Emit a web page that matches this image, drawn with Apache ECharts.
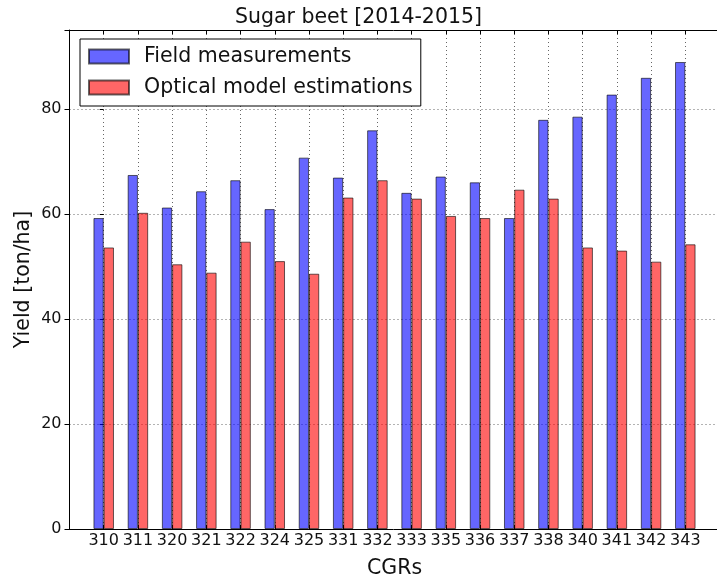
<!DOCTYPE html>
<html>
<head>
<meta charset="utf-8">
<script src="https://cdn.jsdelivr.net/npm/echarts@6/dist/echarts.min.js"></script>
<style>
html,body{margin:0;padding:0;background:#fff;}
#chart{width:717px;height:578px;}
</style>
</head>
<body>
<div id="chart"></div>
<script>
const titleText = 'Sugar beet [2014-2015]';
const categories = ['310','311','320','321','322','324','325','331','332','333','335','336','337','338','340','341','342','343'];
const fieldMeasurements = [59.2, 67.4, 61.2, 64.3, 66.4, 60.9, 70.7, 66.9, 75.9, 64.0, 67.1, 66.0, 59.2, 77.9, 78.5, 82.7, 85.9, 88.9];
const opticalEstimations = [53.6, 60.2, 50.4, 48.8, 54.7, 51.0, 48.6, 63.1, 66.4, 62.9, 59.6, 59.2, 64.6, 62.9, 53.6, 53.0, 50.9, 54.2];
const seriesNames = ['Field measurements', 'Optical model estimations'];
const yTicks = [0, 20, 40, 60, 80];
const xLabel = 'CGRs';
const yLabel = 'Yield [ton/ha]';

const FONT = 'DejaVu Sans';
const chart = echarts.init(document.getElementById('chart'), null, {renderer: 'canvas'});

const gridLine = {color: 'rgba(0,0,0,0.6)', width: 1, type: [1, 3]};
const spine = {show: true, onZero: false, lineStyle: {color: '#000', width: 1}};

const option = {
  backgroundColor: '#fff',
  animation: false,
  textStyle: {fontFamily: FONT},
  title: {
    text: titleText,
    left: 'center',
    top: 7,
    padding: 0,
    textStyle: {fontFamily: FONT, fontSize: 20.5, fontWeight: 'normal', color: '#111'}
  },
  legend: {
    orient: 'vertical',
    left: 80,
    top: 39,
    padding: [7, 8, 8, 8],
    itemGap: 10,
    itemWidth: 40,
    itemHeight: 14,
    icon: 'rect',
    backgroundColor: '#fff',
    borderColor: '#000',
    borderWidth: 1,
    borderRadius: 0,
    textStyle: {fontFamily: FONT, fontSize: 20.5, color: '#111', padding: [0, 0, 0, 10]},
    data: seriesNames
  },
  grid: {left: 69.5, top: 30, width: 650, height: 499, containLabel: false, outerBoundsMode: 'none'},
  xAxis: [
    {
      type: 'value', position: 'bottom', min: -1, max: 18, interval: 1,
      axisLine: spine,
      axisTick: {show: true, inside: true, length: 4, lineStyle: {color: '#000'}},
      axisLabel: {
        show: true, margin: 4, fontSize: 16, color: '#111', fontFamily: FONT,
        formatter: v => (v >= 0 && v < categories.length) ? categories[v] : ''
      },
      splitLine: {show: true, showMinLine: false, showMaxLine: false, lineStyle: gridLine},
      name: xLabel, nameLocation: 'middle', nameGap: 29, nameMoveOverlap: false,
      nameTextStyle: {fontFamily: FONT, fontSize: 20.5, color: '#111'}
    },
    {
      type: 'value', position: 'top', min: -1, max: 18, interval: 1,
      axisLine: spine,
      axisTick: {show: true, inside: true, length: 4, lineStyle: {color: '#000'}},
      axisLabel: {show: false},
      splitLine: {show: false}
    }
  ],
  yAxis: [
    {
      type: 'value', position: 'left', min: 0, max: 95, interval: 20,
      axisLine: spine,
      axisTick: {show: true, inside: false, length: 5, lineStyle: {color: '#000'}},
      axisLabel: {
        show: true, margin: 8, fontSize: 16, color: '#111', fontFamily: FONT,
        formatter: v => yTicks.indexOf(v) >= 0 ? String(v) : ''
      },
      splitLine: {show: true, showMinLine: false, showMaxLine: false, lineStyle: gridLine},
      name: yLabel, nameLocation: 'middle', nameGap: 35, nameMoveOverlap: false,
      nameTextStyle: {fontFamily: FONT, fontSize: 20.5, color: '#111'}
    },
    {
      type: 'value', position: 'right', min: 0, max: 95, interval: 20,
      axisLine: {show: false},
      axisTick: {show: true, inside: true, length: 4, lineStyle: {color: '#000'}},
      axisLabel: {show: false},
      splitLine: {show: false}
    }
  ],
  series: [
    {
      name: seriesNames[0], type: 'bar', xAxisIndex: 0, yAxisIndex: 0,
      barWidth: '30%', barGap: '0%',
      itemStyle: {color: 'rgba(0,0,255,0.6)', borderColor: 'rgba(0,0,0,0.6)', borderWidth: 1},
      data: fieldMeasurements.map((v, i) => [i, v])
    },
    {
      name: seriesNames[1], type: 'bar', xAxisIndex: 0, yAxisIndex: 0,
      barWidth: '30%', barGap: '0%',
      itemStyle: {color: 'rgba(255,0,0,0.6)', borderColor: 'rgba(0,0,0,0.6)', borderWidth: 1},
      data: opticalEstimations.map((v, i) => [i, v])
    }
  ]
};
chart.setOption(option);
</script>
</body>
</html>
